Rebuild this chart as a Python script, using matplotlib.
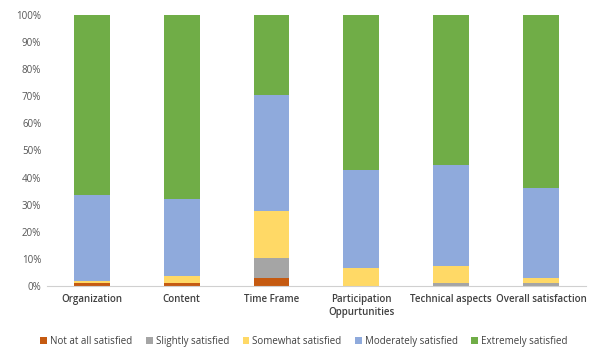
import matplotlib.pyplot as plt
import numpy as np

categories = ['Organization', 'Content', 'Time Frame', 'Participation\nOppurtunities',
              'Technical aspects', 'Overall satisfaction']
series_names = ['Not at all satisfied', 'Slightly satisfied', 'Somewhat satisfied',
                'Moderately satisfied', 'Extremely satisfied']
not_at_all = [1.0, 1.0, 3.0, 0.0, 0.0, 0.0]
slightly = [0.0, 0.0, 7.5, 0.0, 1.0, 1.0]
somewhat = [1.0, 2.7, 17.0, 6.5, 6.5, 1.8]
moderately = [31.5, 28.5, 43.0, 36.2, 37.0, 33.2]
extremely = [66.5, 67.8, 29.5, 57.3, 55.5, 64.0]
colors = ['#C55A11', '#A5A5A5', '#FFD966', '#8FAADC', '#70AD47']

plt.rcParams['font.family'] = ['Open Sans', 'DejaVu Sans']

fig = plt.figure(figsize=(6.08, 3.5), dpi=100)
ax = fig.add_axes([0.077, 0.183, 0.887, 0.774])

x = np.arange(len(categories))
bottom = np.zeros(len(categories))
for name, vals, c in zip(series_names, [not_at_all, slightly, somewhat, moderately, extremely], colors):
    ax.bar(x, vals, 0.4, bottom=bottom, color=c, label=name)
    bottom += np.array(vals)

ax.set_xlim(-0.5, len(categories) - 0.5)
ax.set_ylim(0, 100)
ax.set_yticks(range(0, 101, 10))
ax.set_yticklabels([f'{v}%' for v in range(0, 101, 10)], fontsize=7, color='#555555')
ax.set_xticks(x)
ax.set_xticklabels(categories, fontsize=7, fontweight='semibold', color='#404040')
ax.tick_params(length=0, pad=6)
ax.tick_params(axis='y', pad=4)
for s in ['top', 'right', 'left']:
    ax.spines[s].set_visible(False)
ax.spines['bottom'].set_color('#d0d0d0')

ax.legend(loc='center', bbox_to_anchor=(0.5, 0.024), bbox_transform=fig.transFigure,
          ncol=5, frameon=False, fontsize=7, handlelength=0.7, handleheight=0.7,
          handletextpad=0.3, columnspacing=1.4, labelcolor='#404040')

fig.savefig('out.png', dpi=100)
